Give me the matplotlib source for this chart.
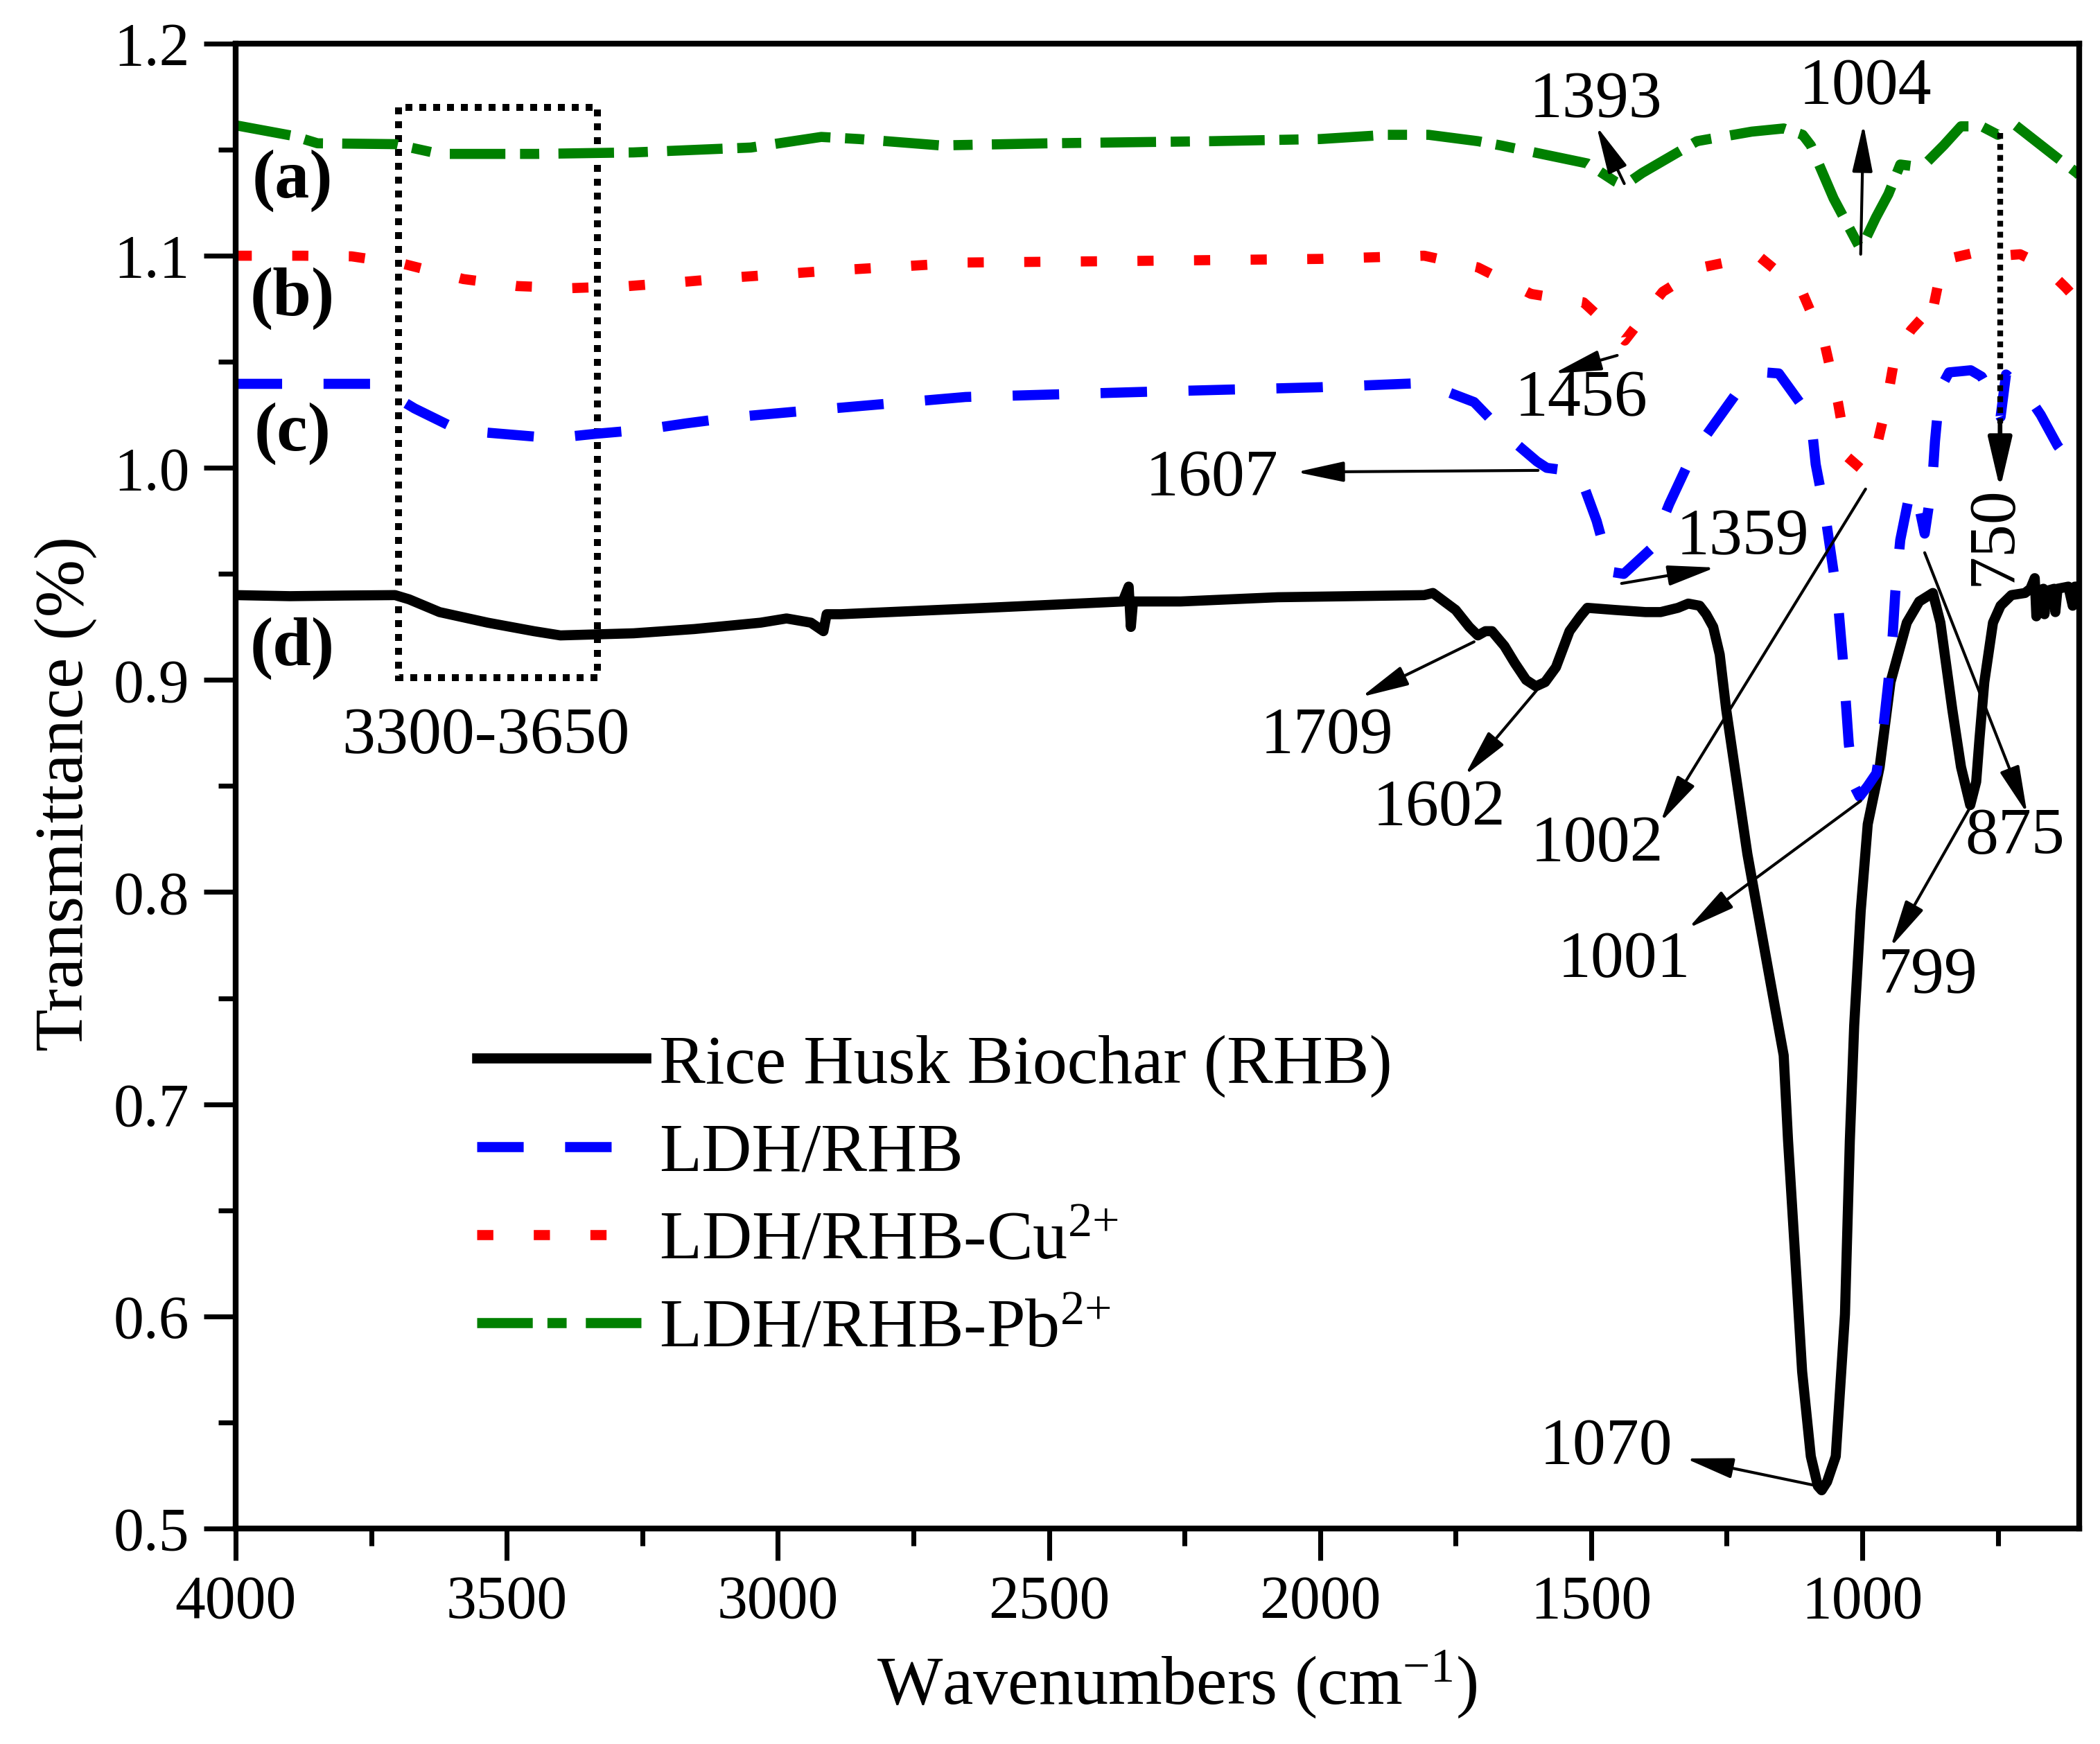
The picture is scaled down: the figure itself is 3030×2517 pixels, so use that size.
"""FTIR spectra of RHB, LDH/RHB and the Cu2+/Pb2+ loaded samples."""

import matplotlib

matplotlib.use("Agg")
import matplotlib.pyplot as plt
from matplotlib.patches import Rectangle
from matplotlib.ticker import FormatStrFormatter, MultipleLocator

plt.rcParams["font.family"] = ["Liberation Serif", "DejaVu Serif"]
plt.rcParams["mathtext.fontset"] = "custom"
plt.rcParams["mathtext.rm"] = "Liberation Serif"
plt.rcParams["mathtext.it"] = "Liberation Serif:italic"
plt.rcParams["mathtext.bf"] = "Liberation Serif:bold"

# ---- spectra (wavenumber, transmittance)
rhb_wn = [4000, 3900, 3800, 3706, 3680, 3624, 3535, 3450, 3401, 3266, 3154,
          3032, 2984, 2939, 2916, 2910, 2884, 2616, 2364, 2353, 2349, 2345,
          2257, 2078, 1808, 1792, 1750, 1725, 1709, 1695, 1683, 1660, 1641,
          1620, 1602, 1585, 1565, 1540, 1520, 1507, 1456, 1400, 1372, 1340,
          1321, 1300, 1288, 1275, 1263, 1251, 1212, 1174, 1145, 1137, 1124,
          1111, 1095, 1082, 1075, 1065, 1049, 1032, 1023, 1015, 1003, 990,
          968, 948, 918, 895, 870, 856, 834, 818, 801, 790, 784, 775, 759,
          745, 725, 700, 690, 682, 679, 675, 666, 664, 660, 646, 644, 640,
          620, 612, 608, 600]
rhb_t = [0.940, 0.9395, 0.9398, 0.940, 0.938, 0.932, 0.927, 0.923, 0.921,
         0.922, 0.924, 0.927, 0.929, 0.927, 0.923, 0.931, 0.931, 0.934, 0.937,
         0.944, 0.925, 0.937, 0.937, 0.939, 0.940, 0.941, 0.933, 0.925, 0.921,
         0.923, 0.923, 0.916, 0.908, 0.900, 0.897, 0.899, 0.906, 0.923, 0.930,
         0.934, 0.933, 0.932, 0.932, 0.934, 0.936, 0.935, 0.931, 0.925, 0.912,
         0.886, 0.818, 0.764, 0.723, 0.683, 0.629, 0.574, 0.534, 0.520, 0.518,
         0.522, 0.534, 0.601, 0.683, 0.737, 0.791, 0.832, 0.859, 0.899, 0.927,
         0.937, 0.941, 0.927, 0.886, 0.859, 0.841, 0.852, 0.872, 0.899, 0.927,
         0.935, 0.940, 0.941, 0.943, 0.948, 0.930, 0.942, 0.943, 0.931, 0.942,
         0.943, 0.932, 0.943, 0.944, 0.935, 0.944, 0.944]

ldh_wn = [4000, 3746, 3670, 3588, 3508, 3414, 3338, 3248, 3168, 3077, 2900,
          2654, 2300, 2000, 1808, 1716, 1657, 1600, 1582, 1523, 1490, 1464,
          1440, 1389, 1356, 1314, 1229, 1180, 1154, 1095, 1086, 1069, 1057,
          1045, 1036, 1025, 1015, 1005, 990, 974, 961, 952, 944, 939, 930,
          915, 902, 885, 871, 866, 857, 840, 800, 780, 760, 745, 735, 700,
          671, 640, 600]
ldh_t = [1.0396, 1.0396, 1.028, 1.0177, 1.016, 1.014, 1.016, 1.018, 1.021,
         1.024, 1.028, 1.0334, 1.036, 1.038, 1.040, 1.031, 1.0154, 1.003,
         1.000, 0.998, 0.975, 0.951, 0.950, 0.962, 0.983, 1.006, 1.0363,
         1.045, 1.0445, 1.0236, 1.0017, 0.979, 0.958, 0.937, 0.910, 0.870,
         0.850, 0.845, 0.850, 0.856, 0.878, 0.899, 0.921, 0.942, 0.966, 0.985,
         0.990, 0.969, 0.993, 1.0125, 1.037, 1.045, 1.046, 1.043, 1.034,
         1.024, 1.044, 1.036, 1.025, 1.0105, 0.997]

cu_wn = [4000, 3876, 3786, 3688, 3580, 3481, 3383, 3275, 3177, 3068, 2900,
         2654, 2358, 2000, 1808, 1709, 1611, 1514, 1438, 1368, 1296, 1192,
         1111, 1069, 1045, 1027, 1000, 981, 957, 939, 910, 885, 876, 851,
         800, 759, 709, 667, 625, 600]
cu_t = [1.100, 1.100, 1.0997, 1.096, 1.089, 1.0857, 1.0847, 1.0857, 1.0876,
        1.090, 1.093, 1.0968, 1.0975, 1.0985, 1.100, 1.0945, 1.082, 1.078,
        1.060, 1.083, 1.0945, 1.100, 1.083, 1.058, 1.031, 1.005, 0.999, 1.002,
        1.028, 1.054, 1.065, 1.072, 1.067, 1.098, 1.101, 1.0997, 1.1007,
        1.0955, 1.085, 1.078]

pb_wn = [4000, 3894, 3849, 3706, 3624, 3445, 3266, 3050, 2920, 2850, 2700,
         2500, 2200, 2000, 1876, 1800, 1709, 1667, 1507, 1456, 1440, 1406,
         1305, 1204, 1145, 1110, 1095, 1053, 1003, 975, 952, 930, 900, 885,
         850, 818, 780, 750, 720, 645, 604, 600]
pb_t = [1.1615, 1.1565, 1.153, 1.1526, 1.148, 1.148, 1.1487, 1.151, 1.156,
        1.155, 1.152, 1.153, 1.154, 1.155, 1.157, 1.157, 1.154, 1.152, 1.1435,
        1.135, 1.133, 1.139, 1.154, 1.1585, 1.160, 1.157, 1.152, 1.127, 1.103,
        1.118, 1.129, 1.143, 1.142, 1.143, 1.152, 1.161, 1.161, 1.157, 1.162,
        1.147, 1.139, 1.138]

series_labels = ["Rice Husk Biochar (RHB)", "LDH/RHB",
                 "LDH/RHB-Cu$^{2{+}}$", "LDH/RHB-Pb$^{2{+}}$"]
panel_tags = ["(a)", "(b)", "(c)", "(d)"]

# peak labels: text, text position, arrow tail, arrow tip (wn, T)
peaks = [
    ("1393", (1491, 1.173), (1439, 1.134), (1490, 1.161)),
    ("1004", (994, 1.179), (1003, 1.1007), (998, 1.162)),
    ("1456", (1518, 1.032), (1452, 1.053), (1569, 1.0445)),
    ("1607", (2200, 0.9945), (1598, 0.9988), (2044, 0.998)),
    ("1359", (1221, 0.9667), (1444, 0.9455), (1271, 0.953)),
    ("1709", (1987, 0.873), (1716, 0.918), (1924, 0.892)),
    ("1602", (1781, 0.839), (1601, 0.895), (1733, 0.855)),
    ("1002", (1489, 0.822), (994, 0.990), (1372, 0.833)),
    ("1001", (1439, 0.7675), (1003, 0.843), (1321, 0.783)),
    ("875", (718, 0.8256), (885, 0.960), (696, 0.837)),
    ("799", (879, 0.760), (801, 0.840), (948, 0.774)),
    ("1070", (1472, 0.538), (1082, 0.520), (1326, 0.533)),
]

BLUE = "#0000ff"
RED = "#ff0000"
GREEN = "#008000"
LW = 3.5

fig = plt.figure(figsize=(10.1, 8.39), dpi=300)
ax = fig.add_axes([0.1122, 0.1236, 0.8779, 0.8514])

ax.plot(rhb_wn, rhb_t, color="black", lw=LW, label=series_labels[0],
        solid_joinstyle="round")
ax.plot(ldh_wn, ldh_t, color=BLUE, lw=LW, label=series_labels[1],
        linestyle=(0, (4.6, 4.1)))
ax.plot(cu_wn, cu_t, color=RED, lw=LW, label=series_labels[2],
        linestyle=(0, (1.6, 4.0)))
ax.plot(pb_wn, pb_t, color=GREEN, lw=LW, label=series_labels[3],
        linestyle=(0, (5.5, 1.45, 1.9, 1.9)))

ax.set_xlim(4000, 600)
ax.set_ylim(0.5, 1.2)
ax.xaxis.set_major_locator(MultipleLocator(500))
ax.xaxis.set_minor_locator(MultipleLocator(250))
ax.yaxis.set_major_locator(MultipleLocator(0.1))
ax.yaxis.set_minor_locator(MultipleLocator(0.05))
ax.yaxis.set_major_formatter(FormatStrFormatter("%.1f"))
ax.tick_params(which="both", direction="out", top=False, right=False,
               labelsize=21, width=1.7, pad=5)
ax.tick_params(which="major", length=11)
ax.tick_params(which="minor", length=6)
for sp in ax.spines.values():
    sp.set_linewidth(2.0)

ax.set_xlabel("Wavenumbers (cm$^{-1}$)", fontsize=24)
ax.set_ylabel("Transmittance (%)", fontsize=24)
ax.xaxis.set_label_coords(0.5105, -0.081)
ax.yaxis.set_label_coords(-0.0752, 0.495)

# O-H region box
ax.add_patch(Rectangle((3333, 0.901), 367, 0.269, fill=False, ec="black",
                       lw=2.4, linestyle=(0, (1, 1))))
ax.text(3539, 0.873, "3300-3650", fontsize=23, ha="center", va="center")

for tag, y in zip(panel_tags, [1.1353, 1.0798, 1.016, 0.915]):
    ax.text(3895, y, tag, fontsize=24, fontweight="bold", ha="center",
            va="center")

arrow_kw = dict(arrowstyle="-|>,head_length=1.4,head_width=0.3",
                mutation_scale=10, color="black", lw=1.0,
                shrinkA=0, shrinkB=0)
for label, txt, tail, tip in peaks:
    ax.annotate("", xy=tip, xytext=tail, arrowprops=arrow_kw)
    ax.text(txt[0], txt[1], label, fontsize=23, ha="center", va="center")

# 750 band: dotted drop line from (a) to (c)
ax.plot([746, 746], [1.158, 1.021], color="black", lw=2.0,
        linestyle=(0, (1, 0.9)))
ax.annotate("", xy=(746, 0.990), xytext=(746, 1.021),
            arrowprops=dict(arrowstyle="-|>,head_length=1.5,head_width=0.35",
                            mutation_scale=10, color="black", lw=1.6,
                            shrinkA=0, shrinkB=0))
ax.text(755, 0.968, "750", fontsize=23, rotation=90, ha="center",
        va="center")

ax.legend(loc="upper left", bbox_to_anchor=(0.131, 0.333), frameon=False,
          fontsize=24, handlelength=2.44, handletextpad=0.19,
          labelspacing=0.36, borderpad=0, borderaxespad=0)

fig.savefig("out.png", dpi=300, facecolor="white")
